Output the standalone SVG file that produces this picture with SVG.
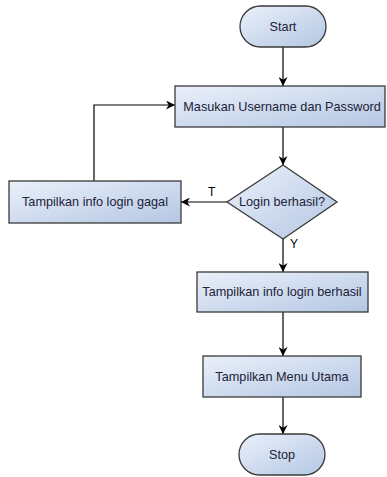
<svg xmlns="http://www.w3.org/2000/svg" width="387" height="477" viewBox="0 0 387 477">
<defs>
<linearGradient id="g" x1="0" y1="0" x2="1" y2="1">
<stop offset="0" stop-color="#eaf0fa"/>
<stop offset="1" stop-color="#b4c7e3"/>
</linearGradient>
<marker id="a" viewBox="0 0 10 10" refX="10" refY="5" markerWidth="9" markerHeight="9" markerUnits="userSpaceOnUse" orient="auto">
<path d="M0,0 L10,5 L0,10 L3,5 Z" fill="#000"/>
</marker>
</defs>
<style>
.n{fill:url(#g);stroke:#3a3a3a;stroke-width:1.3}
.t{font-family:"Liberation Sans",Arial,sans-serif;font-size:12.7px;fill:#222238;text-anchor:middle;dominant-baseline:central}
.c{fill:none;stroke:#000;stroke-width:1.2;marker-end:url(#a)}
.l{font-family:"Liberation Sans",Arial,sans-serif;font-size:12px;fill:#000}
</style>
<g id="connectors">
<path class="c" d="M283,47 V86"/>
<path class="c" d="M283,127 V165"/>
<path class="c" d="M227,202 H181"/>
<path class="c" d="M94,181 V105 H175"/>
<path class="c" d="M283,239 V272"/>
<path class="c" d="M283,312 V356"/>
<path class="c" d="M283,397 V434"/>
<text class="l" x="208" y="196">T</text>
<text class="l" x="290" y="248">Y</text>
</g>
<g id="start">
<rect class="n" x="240" y="6" width="86" height="41" rx="20.5"/>
<text class="t" x="283" y="27">Start</text>
</g>
<g id="input">
<rect class="n" x="175" y="86" width="210" height="41"/>
<text class="t" x="282" y="107">Masukan Username dan Password</text>
</g>
<g id="decision">
<polygon class="n" points="283,165 337,202 283,239 227,202"/>
<text class="t" x="282" y="202">Login berhasil?</text>
</g>
<g id="gagal">
<rect class="n" x="9" y="181" width="172" height="42"/>
<text class="t" x="95" y="202">Tampilkan info login gagal</text>
</g>
<g id="berhasil">
<rect class="n" x="197" y="272" width="171" height="40"/>
<text class="t" x="282" y="292">Tampilkan info login berhasil</text>
</g>
<g id="menu">
<rect class="n" x="203" y="356" width="158" height="41"/>
<text class="t" x="282" y="377">Tampilkan Menu Utama</text>
</g>
<g id="stop">
<rect class="n" x="239" y="434" width="86" height="41" rx="20.5"/>
<text class="t" x="282" y="455">Stop</text>
</g>
</svg>
